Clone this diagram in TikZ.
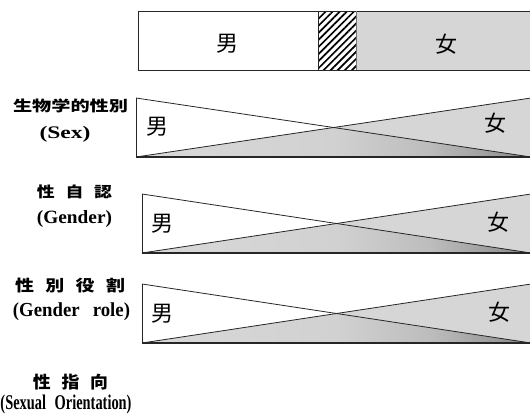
\documentclass[tikz,border=0pt]{standalone}
\usepackage{fontspec}
\usepackage{graphicx}
\setmainfont{Liberation Serif}
\newfontfamily\cjk{Noto Sans CJK JP}
\usetikzlibrary{patterns.meta,calc}

% stretched heading: width, total height, text
\newcommand{\fitlbl}[3]{\resizebox*{#1}{#2}{#3}}

% overlap of the two triangles: light on the left, darkening to the right
\pgfdeclarehorizontalshading{overlapshade}{100bp}{%
  color(0bp)=(black!15); color(25bp)=(black!15); color(50bp)=(black!18);
  color(62bp)=(black!26); color(75bp)=(black!46); color(100bp)=(black!46)}

\begin{document}
\begin{tikzpicture}[x=1pt,y=-1pt,
  sexmark/.style={font=\cjk\fontsize{22}{22}\selectfont, inner sep=0pt},
  lbl/.style={inner sep=0pt},
  edge/.style={line width=0.8pt, draw=black!85},
  baseedge/.style={line width=1.1pt, draw=black!85},
  femfill/.style={fill=black!16},
]
\useasboundingbox (0,0) rectangle (530,415);
\clip (0,0) rectangle (530,415);

% ---- top bar: male / intersex / female ----
\coordinate (tTL) at (138,11);
\coordinate (tBL) at (138,70);
\coordinate (tTR) at (532,11);
\coordinate (tBR) at (532,70);
\coordinate (hTL) at (318,11);
\coordinate (hBL) at (318,70);
\coordinate (hTR) at (356,11);
\coordinate (hBR) at (356,70);
\fill[femfill] (hTR) rectangle (tBR);
\fill[pattern={Lines[angle=45,distance=5pt,line width=1.7pt]}] (hTL) rectangle (hBR);
\draw[edge] (tTR) -- (tTL) -- (tBL) -- (tBR);
\draw[edge] (hTL) -- (hBL);
\draw[black!55, line width=0.9pt] (hTR) -- (hBR);
\node[sexmark] (tm) at (227,44) {男};
\node[sexmark] (tf) at (446,44) {女};

% ---- crossed-triangle rows ----
% #1 name, #2 left x, #3 top y, #4 bottom y
\newcommand{\crossrow}[4]{%
  \coordinate (#1TL) at (#2,#3);
  \coordinate (#1BL) at (#2,#4);
  \coordinate (#1TR) at (531,#3);
  \coordinate (#1BR) at (531,#4);
  \coordinate (#1X) at ($(#1TL)!0.5!(#1BR)$);
  \fill[femfill] (#1BL) -- (#1TR) -- (#1BR) -- cycle;
  \shade[shading=overlapshade] (#1BL) -- (#1X) -- (#1BR) -- cycle;
  \draw[edge] (#1TL) -- (#1BR);
  \draw[edge] (#1BL) -- (#1TR);
  \draw[edge] (#1TL) -- (#1BL);
  \draw[baseedge] (#1BL) -- (#1BR);
}

\crossrow{ra}{136}{98}{157}
\crossrow{rb}{142}{194}{253}
\crossrow{rc}{142}{284}{343}

\node[sexmark] (ram) at (157,127) {男};
\node[sexmark] (raf) at (495,123) {女};
\node[sexmark] (rbm) at (162,224) {男};
\node[sexmark] (rbf) at (498,222) {女};
\node[sexmark] (rcm) at (162,314) {男};
\node[sexmark] (rcf) at (499,312) {女};

% ---- row headings ----
\node[lbl] (ha) at (70.5,106) {\fitlbl{115pt}{14pt}{\cjk\bfseries 生物学的性別}};
\node[lbl] (hae) at (65,134) {\fitlbl{51pt}{16pt}{\bfseries (Sex)}};
\node[lbl] (hb) at (74.5,192) {\fitlbl{75pt}{14pt}{\cjk\bfseries 性\hspace{0.6em}自\hspace{0.6em}認}};
\node[lbl] (hbe) at (74.5,219) {\fitlbl{75pt}{17pt}{\bfseries (Gender)}};
\node[lbl] (hc) at (70,286) {\fitlbl{110pt}{15pt}{\cjk\bfseries 性\hspace{0.6em}別\hspace{0.6em}役\hspace{0.6em}割}};
\node[lbl] (hce) at (71.5,311.5) {\fitlbl{117pt}{18pt}{\bfseries (Gender\hspace{0.7em}role)}};
\node[lbl] (hd) at (70.5,382) {\fitlbl{75pt}{16pt}{\cjk\bfseries 性\hspace{0.6em}指\hspace{0.6em}向}};
\node[lbl] (hde) at (66,404.5) {\fitlbl{131pt}{19pt}{\bfseries (Sexual\hspace{0.6em}Orientation)}};
\end{tikzpicture}
\end{document}
